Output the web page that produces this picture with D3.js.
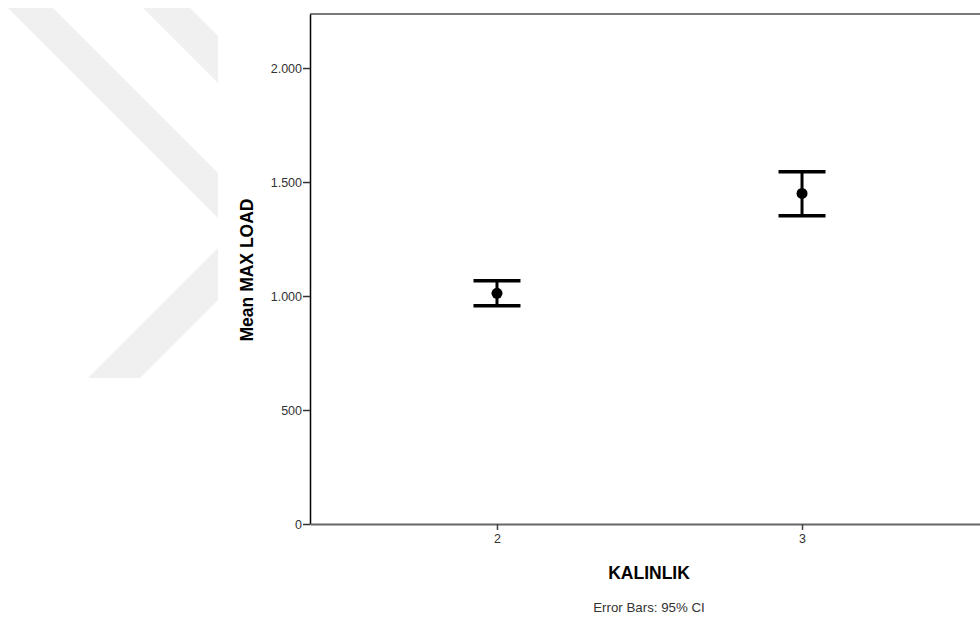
<!DOCTYPE html>
<html>
<head>
<meta charset="utf-8">
<script src="https://cdn.jsdelivr.net/npm/d3@7"></script>
<style>
  html, body { margin: 0; padding: 0; background: #fff; }
  svg { display: block; font-family: "Liberation Sans", Arial, sans-serif; }
  .axis-text { font-size: 12.5px; fill: #333; }
  .axis-title { font-size: 17.5px; font-weight: bold; fill: #000; }
</style>
</head>
<body>
<div id="chart"></div>
<script>
// data
const categories = ['2', '3'];
const means = [1012, 1450];
const ciLower = [957, 1352];
const ciUpper = [1067, 1545];
const yTicks = [0, 500, 1000, 1500, 2000];

const width = 980;
const height = 624;
const plot = { left: 310, right: 989, top: 14, bottom: 524 };

const svg = d3.select('#chart')
  .append('svg')
  .attr('width', width)
  .attr('height', height);

// faint watermark chevron on the left
const wm = svg.append('g').attr('fill', '#f0f0f0');
wm.append('polygon').attr('points', '8,8 53,8 218,173 218,218');
wm.append('polygon').attr('points', '143,8 190,8 218,36 218,83');
wm.append('polygon').attr('points', '218,248 218,300 140,378 88,378');

const x = d3.scalePoint()
  .domain(categories)
  .range([plot.left, plot.right])
  .padding(0.613);

const y = d3.scaleLinear()
  .domain([0, 2237])
  .range([plot.bottom, plot.top]);

const locale = d3.formatLocale({ decimal: ',', thousands: '.', grouping: [3], currency: ['', ''] });
const fmt = locale.format(',d');

// frame top
svg.append('line')
  .attr('x1', plot.left).attr('x2', plot.right)
  .attr('y1', plot.top).attr('y2', plot.top)
  .attr('stroke', '#7a7a7a').attr('stroke-width', 2);

// y axis
const yAxis = svg.append('g')
  .attr('transform', `translate(${plot.left},0)`)
  .call(d3.axisLeft(y).tickValues(yTicks).tickFormat(fmt).tickSize(7).tickSizeOuter(0).tickPadding(1));
yAxis.select('.domain').attr('stroke', '#000').attr('stroke-width', 1.5);
yAxis.selectAll('line').attr('stroke', '#333').attr('stroke-width', 1.5);
yAxis.selectAll('text').attr('class', 'axis-text').attr('font-size', null).attr('font-family', null).attr('fill', null);

// x axis
const xAxis = svg.append('g')
  .attr('transform', `translate(0,${plot.bottom})`)
  .call(d3.axisBottom(x).tickSize(6).tickSizeOuter(0).tickPadding(4));
xAxis.select('.domain').attr('stroke', '#666').attr('stroke-width', 2);
xAxis.selectAll('line').attr('stroke', '#444').attr('stroke-width', 1.5);
xAxis.selectAll('text').attr('class', 'axis-text').attr('font-size', null).attr('font-family', null).attr('fill', null);

// error bars
const capHalf = 23.5;
const bars = svg.append('g')
  .selectAll('g')
  .data(categories.map((c, i) => ({ c, m: means[i], lo: ciLower[i], hi: ciUpper[i] })))
  .join('g');

bars.append('line')
  .attr('x1', d => x(d.c)).attr('x2', d => x(d.c))
  .attr('y1', d => y(d.hi)).attr('y2', d => y(d.lo))
  .attr('stroke', '#000').attr('stroke-width', 3);

bars.selectAll('line.cap')
  .data(d => [{ c: d.c, v: d.hi }, { c: d.c, v: d.lo }])
  .join('line')
  .attr('class', 'cap')
  .attr('x1', d => x(d.c) - capHalf).attr('x2', d => x(d.c) + capHalf)
  .attr('y1', d => y(d.v)).attr('y2', d => y(d.v))
  .attr('stroke', '#000').attr('stroke-width', 3.5);

bars.append('circle')
  .attr('cx', d => x(d.c))
  .attr('cy', d => y(d.m))
  .attr('r', 5.5)
  .attr('fill', '#000');

// titles
svg.append('text')
  .attr('class', 'axis-title')
  .attr('x', 649).attr('y', 579)
  .attr('text-anchor', 'middle')
  .text('KALINLIK');

svg.append('text')
  .attr('class', 'axis-title')
  .attr('transform', 'translate(253,270) rotate(-90)')
  .attr('text-anchor', 'middle')
  .text('Mean MAX LOAD');

svg.append('text')
  .attr('x', 649).attr('y', 612)
  .attr('text-anchor', 'middle')
  .attr('font-size', 13.3)
  .attr('fill', '#333')
  .text('Error Bars: 95% CI');
</script>
</body>
</html>
